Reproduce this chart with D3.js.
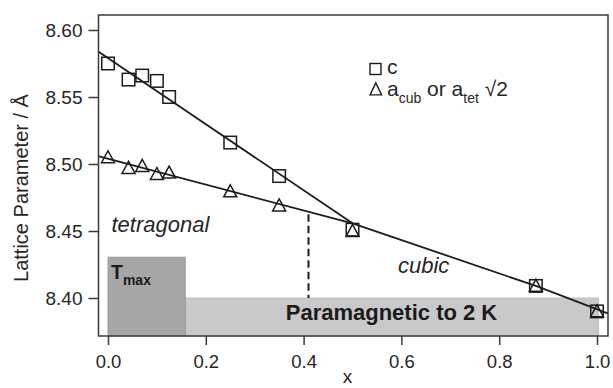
<!DOCTYPE html>
<html>
<head>
<meta charset="utf-8">
<script src="https://cdn.jsdelivr.net/npm/d3@7"></script>
<style>
  body { margin: 0; background: #fff; }
  svg { display: block; font-family: 'Liberation Sans', Arial, sans-serif; }
</style>
</head>
<body>
<div id="chart"></div>
<script>
// composition x for both series
const xs = [0, 0.042, 0.07, 0.1, 0.125, 0.25, 0.35, 0.5, 0.875, 1.0]
const cValues = [8.575, 8.563, 8.566, 8.562, 8.550, 8.516, 8.491, 8.451, 8.409, 8.390]
const aValues = [8.505, 8.497, 8.4985, 8.4925, 8.4935, 8.4795, 8.469, 8.450, 8.409, 8.390]

// guide lines
const fitCx = [-0.02, 0.5]
const fitCy = [8.584, 8.4557]
const fitAx = [-0.02, 0.5]
const fitAy = [8.5058, 8.4557]
const cubicX = [0.5, 0.875, 1.022]
const cubicY = [8.4557, 8.409, 8.3885]

const xTicks = [0, 0.2, 0.4, 0.6, 0.8, 1.0]
const yTicks = [8.40, 8.45, 8.50, 8.55, 8.60]

const transitionX = 0.41
const tmaxRange = [0, 0.158]
const tmaxTop = 8.4305
const paraRange = [0.158, 1.003]
const paraTop = 8.40

const CONFIG = {
  width: 613,
  height: 388,
  frame: { left: 98.5, right: 608, top: 15, bottom: 336 },
  colors: {
    text: '#262626',
    line: '#1c1c1c',
    frame: '#3a3a3a',
    tmax: '#a6a6a6',
    para: '#c9c9c9'
  }
}

const f = CONFIG.frame
const x = d3.scaleLinear().domain([0, 1]).range([108, 597])
const y = d3.scaleLinear().domain([8.40, 8.60]).range([298, 30])

const svg = d3.select('#chart')
  .append('svg')
  .attr('width', CONFIG.width)
  .attr('height', CONFIG.height)

// shaded regions
svg.append('rect')
  .attr('x', x(paraRange[0]))
  .attr('y', y(paraTop))
  .attr('width', x(paraRange[1]) - x(paraRange[0]))
  .attr('height', f.bottom - y(paraTop))
  .attr('fill', CONFIG.colors.para)
  .attr('stroke', '#b8b8b8')
  .attr('stroke-width', 0.8)

svg.append('rect')
  .attr('x', x(tmaxRange[0]))
  .attr('y', y(tmaxTop))
  .attr('width', x(tmaxRange[1]) - x(tmaxRange[0]))
  .attr('height', f.bottom - y(tmaxTop))
  .attr('fill', CONFIG.colors.tmax)
  .attr('stroke', '#959595')
  .attr('stroke-width', 0.8)

const tmax = svg.append('text')
  .attr('x', 111)
  .attr('y', 278.5)
  .style('font-weight', 'bold')
  .style('fill', '#1a1a1a')
tmax.append('tspan').style('font-size', '19.5px').text('T')
tmax.append('tspan').attr('dy', 6.5).style('font-size', '14px').text('max')

svg.append('text')
  .attr('x', 391.5)
  .attr('y', 320)
  .attr('text-anchor', 'middle')
  .style('font-size', '22px')
  .style('font-weight', 'bold')
  .style('fill', '#1a1a1a')
  .text('Paramagnetic to 2 K')

// phase labels
svg.append('text')
  .attr('x', 111.5)
  .attr('y', 231.5)
  .style('font-size', '22px')
  .style('font-style', 'italic')
  .style('fill', CONFIG.colors.text)
  .text('tetragonal')

svg.append('text')
  .attr('x', 398)
  .attr('y', 273)
  .style('font-size', '22px')
  .style('font-style', 'italic')
  .style('fill', CONFIG.colors.text)
  .text('cubic')

// tetragonal / cubic boundary
const fitAAt = d3.scaleLinear().domain(fitAx).range(fitAy)
svg.append('line')
  .attr('x1', x(transitionX))
  .attr('x2', x(transitionX))
  .attr('y1', y(fitAAt(transitionX)) + 2.5)
  .attr('y2', y(paraTop))
  .attr('stroke', CONFIG.colors.line)
  .attr('stroke-width', 2)
  .attr('stroke-dasharray', '7.5,4')

// guide lines
const line = d3.line().x((d) => x(d[0])).y((d) => y(d[1]))
const guides = [
  d3.zip(fitCx, fitCy),
  d3.zip(fitAx, fitAy),
  d3.zip(cubicX, cubicY)
]
svg.append('g')
  .selectAll('path')
  .data(guides)
  .enter()
  .append('path')
  .attr('d', line)
  .attr('fill', 'none')
  .attr('stroke', CONFIG.colors.line)
  .attr('stroke-width', 1.8)

// markers
const sq = 12.5
svg.append('g')
  .selectAll('rect')
  .data(d3.zip(xs, cValues))
  .enter()
  .append('rect')
  .attr('x', (d) => x(d[0]) - sq / 2)
  .attr('y', (d) => y(d[1]) - sq / 2)
  .attr('width', sq)
  .attr('height', sq)
  .attr('fill', 'none')
  .attr('stroke', CONFIG.colors.line)
  .attr('stroke-width', 1.5)

const tri = (cx, cy, w, h) =>
  `M${cx - w / 2},${cy + h * 0.45}L${cx + w / 2},${cy + h * 0.45}L${cx},${cy - h * 0.55}Z`

svg.append('g')
  .selectAll('path')
  .data(d3.zip(xs, aValues))
  .enter()
  .append('path')
  .attr('d', (d) => tri(x(d[0]), y(d[1]), 13, 12))
  .attr('fill', 'none')
  .attr('stroke', CONFIG.colors.line)
  .attr('stroke-width', 1.5)

// frame
svg.append('rect')
  .attr('x', f.left)
  .attr('y', f.top)
  .attr('width', f.right - f.left)
  .attr('height', f.bottom - f.top)
  .attr('fill', 'none')
  .attr('stroke', CONFIG.colors.frame)
  .attr('stroke-width', 1.5)

// axes
svg.append('g')
  .attr('transform', `translate(${f.left},0)`)
  .call(d3.axisLeft(y).tickValues(yTicks).tickFormat(d3.format('.2f')).tickSize(10).tickPadding(6))
  .call((g) => {
    g.select('.domain').remove()
    g.selectAll('.tick line').attr('stroke', CONFIG.colors.frame).attr('stroke-width', 1.5)
    g.selectAll('.tick text')
      .style('font-size', '19px')
      .style('font-family', "'Liberation Sans', Arial, sans-serif")
      .style('fill', CONFIG.colors.text)
  })

svg.append('g')
  .attr('transform', `translate(0,${f.bottom})`)
  .call(d3.axisBottom(x).tickValues(xTicks).tickFormat(d3.format('.1f')).tickSize(9).tickPadding(10))
  .call((g) => {
    g.select('.domain').remove()
    g.selectAll('.tick line').attr('stroke', CONFIG.colors.frame).attr('stroke-width', 1.5)
    g.selectAll('.tick text')
      .style('font-size', '18.5px')
      .style('font-family', "'Liberation Sans', Arial, sans-serif")
      .style('fill', CONFIG.colors.text)
  })

// axis titles
svg.append('text')
  .attr('transform', 'translate(28,188) rotate(-90)')
  .attr('text-anchor', 'middle')
  .style('font-size', '20px')
  .style('fill', CONFIG.colors.text)
  .text('Lattice Parameter / Å')

svg.append('text')
  .attr('x', 347.5)
  .attr('y', 383)
  .attr('text-anchor', 'middle')
  .style('font-size', '19px')
  .style('fill', CONFIG.colors.text)
  .text('x')

// legend
const legend = svg.append('g').attr('class', 'legend')
legend.append('rect')
  .attr('x', 370).attr('y', 63.5)
  .attr('width', 11).attr('height', 11)
  .attr('fill', 'none')
  .attr('stroke', CONFIG.colors.line)
  .attr('stroke-width', 1.4)
legend.append('text')
  .attr('x', 387).attr('y', 73.5)
  .style('font-size', '21px')
  .style('fill', CONFIG.colors.text)
  .text('c')

legend.append('path')
  .attr('d', tri(375.8, 89.5, 11.5, 12))
  .attr('fill', 'none')
  .attr('stroke', CONFIG.colors.line)
  .attr('stroke-width', 1.4)

const aLabel = legend.append('text')
  .attr('x', 387).attr('y', 95.5)
  .style('font-size', '21px')
  .style('fill', CONFIG.colors.text)
aLabel.append('tspan').text('a')
aLabel.append('tspan').attr('dy', 7).style('font-size', '14px').text('cub')
aLabel.append('tspan').attr('dy', -7).text(' or a')
aLabel.append('tspan').attr('dy', 7).style('font-size', '14px').text('tet')
aLabel.append('tspan').attr('dy', -7).text(' √2')
</script>
</body>
</html>
